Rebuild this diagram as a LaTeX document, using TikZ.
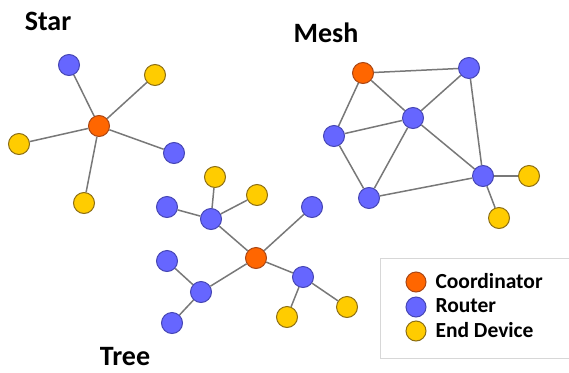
\documentclass[tikz,border=0pt]{standalone}
\usepackage{fontspec}
\setmainfont{Carlito}
\usepackage{tikz}
\definecolor{coordfill}{RGB}{255,102,0}
\definecolor{coorddraw}{RGB}{170,70,20}
\definecolor{routfill}{RGB}{102,102,255}
\definecolor{routdraw}{RGB}{70,70,180}
\definecolor{endfill}{RGB}{255,204,0}
\definecolor{enddraw}{RGB}{140,110,20}
\definecolor{linkgray}{RGB}{120,120,120}
\definecolor{boxgray}{RGB}{215,215,215}

\begin{document}
\begin{tikzpicture}[x=1pt,y=-1pt]
\tikzstyle{every node}=[font=\bfseries]
\tikzstyle{coordinator}=[circle,minimum size=21pt,inner sep=0pt,fill=coordfill,draw=coorddraw,line width=1pt]
\tikzstyle{router}=[circle,minimum size=21pt,inner sep=0pt,fill=routfill,draw=routdraw,line width=1pt]
\tikzstyle{enddev}=[circle,minimum size=21pt,inner sep=0pt,fill=endfill,draw=enddraw,line width=1pt]
\tikzstyle{link}=[draw=linkgray,line width=1.5pt]
\tikzstyle{title}=[font=\fontsize{28}{30}\selectfont\bfseries,inner sep=0pt]
\useasboundingbox (0,0) rectangle (569,372);
% titles
\node [title] (startitle) at (48,21) {Star};
\node [title] (meshtitle) at (326,33) {Mesh};
\node [title] (treetitle) at (125,357) {Tree};
% star
\node [coordinator] (sc) at (99,126) {};
\node [router] (sr1) at (69,65) {};
\node [router] (sr2) at (174,153) {};
\node [enddev] (se1) at (155,75) {};
\node [enddev] (se2) at (19,144) {};
\node [enddev] (se3) at (84,203) {};
\draw [link] (sc) -- (sr1);
\draw [link] (sc) -- (sr2);
\draw [link] (sc) -- (se1);
\draw [link] (sc) -- (se2);
\draw [link] (sc) -- (se3);
% mesh
\node [coordinator] (mc) at (363,73) {};
\node [router] (mr1) at (469,68) {};
\node [router] (mr2) at (413,118) {};
\node [router] (mr3) at (334,136) {};
\node [router] (mr4) at (369,198) {};
\node [router] (mr5) at (483,176) {};
\node [enddev] (me1) at (529,176) {};
\node [enddev] (me2) at (499,218) {};
\draw [link] (mc) -- (mr1);
\draw [link] (mc) -- (mr2);
\draw [link] (mc) -- (mr3);
\draw [link] (mr1) -- (mr2);
\draw [link] (mr1) -- (mr5);
\draw [link] (mr2) -- (mr3);
\draw [link] (mr2) -- (mr4);
\draw [link] (mr2) -- (mr5);
\draw [link] (mr3) -- (mr4);
\draw [link] (mr4) -- (mr5);
\draw [link] (mr5) -- (me1);
\draw [link] (mr5) -- (me2);
% tree
\node [coordinator] (tc) at (256,258) {};
\node [router] (tr1) at (211,219) {};
\node [router] (tr2) at (312,207) {};
\node [router] (tr3) at (303,277) {};
\node [router] (tr4) at (201,292) {};
\node [router] (tr5) at (167,207) {};
\node [router] (tr6) at (167,261) {};
\node [router] (tr7) at (172,323) {};
\node [enddev] (te1) at (215,177) {};
\node [enddev] (te2) at (257,195) {};
\node [enddev] (te3) at (287,317) {};
\node [enddev] (te4) at (347,307) {};
\draw [link] (tc) -- (tr1);
\draw [link] (tc) -- (tr2);
\draw [link] (tc) -- (tr3);
\draw [link] (tc) -- (tr4);
\draw [link] (tr1) -- (tr5);
\draw [link] (tr1) -- (te1);
\draw [link] (tr1) -- (te2);
\draw [link] (tr4) -- (tr6);
\draw [link] (tr4) -- (tr7);
\draw [link] (tr3) -- (te3);
\draw [link] (tr3) -- (te4);
% legend
\draw [boxgray,line width=1pt,fill=white] (380,258) rectangle (569,358);
\node [coordinator,minimum size=20pt] (lc) at (416,282) {};
\node [router,minimum size=20pt] (lr) at (416,307) {};
\node [enddev,minimum size=20pt] (le) at (416,331) {};
\node [font=\fontsize{21.5}{23}\selectfont\bfseries,anchor=west] (lctext) at (432,281) {Coordinator};
\node [font=\fontsize{21.5}{23}\selectfont\bfseries,anchor=west] (lrtext) at (432,306) {Router};
\node [font=\fontsize{21.5}{23}\selectfont\bfseries,anchor=west] (letext) at (432,330) {End Device};
\end{tikzpicture}
\end{document}
